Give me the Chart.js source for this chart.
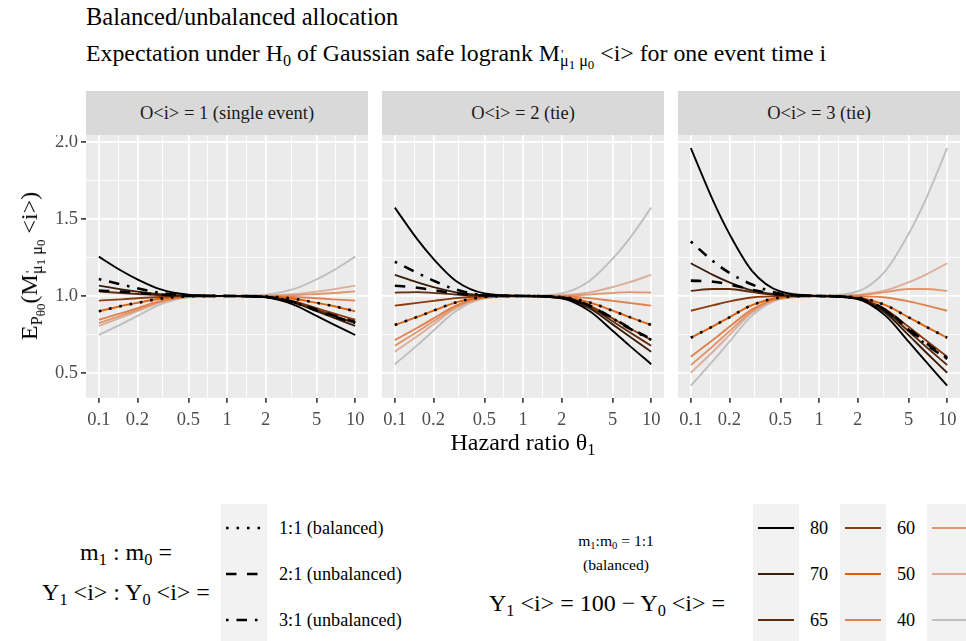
<!DOCTYPE html>
<html>
<head>
<meta charset="utf-8">
<script src="https://cdn.jsdelivr.net/npm/chart.js@4.4.1/dist/chart.umd.min.js"></script>
<style>
  body { margin: 0; background: #fff; font-family: "Liberation Serif", "Times New Roman", serif; color: #000; }
  #page { position: relative; width: 966px; height: 641px; overflow: hidden; }
  .abs { position: absolute; white-space: nowrap; line-height: 1; }
  .ctr { transform: translate(-50%, -50%); }
  sub { font-size: 0.68em; vertical-align: -0.28em; line-height: 0; }
  sub sub { font-size: 0.8em; vertical-align: -0.2em; }
  .pr { display: inline-block; width: 0; position: relative; left: 1px; top: -3px; font-size: 0.55em; }
  .strip { position: absolute; top: 91px; height: 44px; background: #d9d9d9; color: #1a1a1a;
           font-size: 18.5px; display: flex; align-items: center; justify-content: center; }
  canvas { position: absolute; }
  .keybox { position: absolute; top: 504px; width: 46px; height: 137px; background: #f2f2f2; }
  .lab { position: absolute; font-size: 18.2px; line-height: 1; white-space: nowrap; transform: translateY(-50%); }
</style>
</head>
<body>
<div id="page">
  <div class="abs" style="left:86px;top:4.5px;font-size:24.5px">Balanced/unbalanced allocation</div>
  <div class="abs" style="left:86px;top:42px;font-size:23.8px">Expectation under H<sub>0</sub> of Gaussian safe logrank M<span class="pr">'</span><sub>μ<sub>1</sub> μ<sub>0</sub></sub> &lt;i&gt; for one event time i</div>

  <div class="strip" style="left:86px;width:282px">O&lt;i&gt; = 1 (single event)</div>
  <div class="strip" style="left:382px;width:282px">O&lt;i&gt; = 2 (tie)</div>
  <div class="strip" style="left:678px;width:282px">O&lt;i&gt; = 3 (tie)</div>

  <canvas id="p1" width="368" height="300" style="left:0;top:135px"></canvas>
  <canvas id="p2" width="282" height="300" style="left:382px;top:135px"></canvas>
  <canvas id="p3" width="282" height="300" style="left:678px;top:135px"></canvas>

  <div class="abs ctr" style="left:29px;top:266px;font-size:24px;transform:translate(-50%,-50%) rotate(-90deg)">E<sub>P<sub>θ0</sub></sub>(M<span class="pr">'</span><sub>μ<sub>1</sub> μ<sub>0</sub></sub> &lt;i&gt;)</div>
  <div class="abs ctr" style="left:523px;top:442px;font-size:24px">Hazard ratio θ<sub>1</sub></div>

  <!-- legend: allocation -->
  <div class="abs ctr" style="left:126px;top:552px;font-size:24px">m<sub>1</sub> : m<sub>0</sub> =</div>
  <div class="abs ctr" style="left:126px;top:592px;font-size:24px">Y<sub>1</sub> &lt;i&gt; : Y<sub>0</sub> &lt;i&gt; =</div>
  <div class="keybox" style="left:221px"></div>
  <svg class="abs" style="left:221px;top:504px" width="46" height="137" id="keyAlloc"></svg>
  <div id="allocLabels"></div>

  <!-- legend: at risk -->
  <div class="abs ctr" style="left:616px;top:541px;font-size:15.6px">m<sub>1</sub>:m<sub>0</sub> = 1:1</div>
  <div class="abs ctr" style="left:616px;top:565px;font-size:15.6px">(balanced)</div>
  <div class="abs ctr" style="left:607px;top:603px;font-size:24px">Y<sub>1</sub> &lt;i&gt; = 100 − Y<sub>0</sub> &lt;i&gt; =</div>
  <div id="riskKeys"></div>
</div>

<script>
const hazardRatio = [0.1, 0.15, 0.2, 0.3, 0.5, 1, 2, 3.3, 5, 6.7, 10];
const xBreaks = [0.1, 0.2, 0.5, 1, 2, 5, 10];
const xMinor = [0.1414, 0.3162, 0.7071, 1.414, 3.162, 7.071];
const yBreaks = [0.5, 1.0, 1.5, 2.0];
const yMinor = [0.75, 1.25, 1.75];

const atRisk = ['80', '70', '65', '60', '50', '40', '35', '30', '20'];
const allocations = ['1:1 (balanced)', '2:1 (unbalanced)', '3:1 (unbalanced)'];

// O<i> = 1 (single event)
const o1Y80 = [1.256, 1.164, 1.108, 1.044, 1.008, 1.0, 0.991, 0.944, 0.870, 0.817, 0.746];
const o1Y70 = [1.067, 1.043, 1.028, 1.011, 1.002, 1.0, 0.993, 0.957, 0.901, 0.860, 0.805];
const o1Y65 = [1.030, 1.019, 1.013, 1.005, 1.001, 1.0, 0.994, 0.961, 0.910, 0.873, 0.823];
const o1Y60 = [0.970, 0.978, 0.985, 0.993, 0.999, 1.0, 0.995, 0.966, 0.921, 0.888, 0.845];
const o1Y50 = [0.900, 0.935, 0.955, 0.982, 0.997, 1.0, 0.997, 0.982, 0.955, 0.935, 0.900];
const o1Y40 = [0.845, 0.888, 0.921, 0.966, 0.995, 1.0, 0.999, 0.993, 0.985, 0.978, 0.970];
const o1Y35 = [0.823, 0.873, 0.910, 0.961, 0.994, 1.0, 1.001, 1.005, 1.013, 1.019, 1.030];
const o1Y30 = [0.805, 0.860, 0.901, 0.957, 0.993, 1.0, 1.002, 1.011, 1.028, 1.043, 1.067];
const o1Y20 = [0.746, 0.817, 0.870, 0.944, 0.991, 1.0, 1.008, 1.044, 1.108, 1.164, 1.256];
const o1Bal = [0.900, 0.935, 0.955, 0.982, 0.997, 1.0, 0.997, 0.982, 0.955, 0.935, 0.900];
const o1Unb2 = [1.035, 1.028, 1.020, 1.009, 1.002, 1.0, 0.994, 0.960, 0.910, 0.875, 0.830];
const o1Unb3 = [1.110, 1.075, 1.050, 1.020, 1.004, 1.0, 0.993, 0.958, 0.905, 0.868, 0.825];

// O<i> = 2 (tie)
const o2Y80 = [1.575, 1.368, 1.242, 1.098, 1.017, 1.0, 0.984, 0.902, 0.774, 0.680, 0.556];
const o2Y70 = [1.137, 1.088, 1.058, 1.023, 1.004, 1.0, 0.987, 0.920, 0.815, 0.739, 0.637];
const o2Y65 = [1.022, 1.025, 1.020, 1.010, 1.002, 1.0, 0.989, 0.929, 0.835, 0.767, 0.676];
const o2Y60 = [0.937, 0.955, 0.968, 0.986, 0.998, 1.0, 0.990, 0.937, 0.854, 0.793, 0.713];
const o2Y50 = [0.811, 0.864, 0.904, 0.958, 0.993, 1.0, 0.993, 0.958, 0.904, 0.864, 0.811];
const o2Y40 = [0.713, 0.793, 0.854, 0.937, 0.990, 1.0, 0.998, 0.986, 0.968, 0.955, 0.937];
const o2Y35 = [0.676, 0.767, 0.835, 0.929, 0.989, 1.0, 1.002, 1.010, 1.020, 1.025, 1.022];
const o2Y30 = [0.637, 0.739, 0.815, 0.920, 0.987, 1.0, 1.004, 1.023, 1.058, 1.088, 1.137];
const o2Y20 = [0.556, 0.680, 0.774, 0.902, 0.984, 1.0, 1.017, 1.098, 1.242, 1.368, 1.575];
const o2Bal = [0.811, 0.864, 0.904, 0.958, 0.993, 1.0, 0.993, 0.958, 0.904, 0.864, 0.811];
const o2Unb2 = [1.067, 1.054, 1.038, 1.016, 1.003, 1.0, 0.990, 0.938, 0.857, 0.795, 0.720];
const o2Unb3 = [1.223, 1.150, 1.100, 1.042, 1.006, 1.0, 0.989, 0.935, 0.853, 0.790, 0.715];

// O<i> = 3 (tie)
const o3Y80 = [1.962, 1.616, 1.404, 1.164, 1.029, 1.0, 0.980, 0.872, 0.702, 0.580, 0.416];
const o3Y70 = [1.213, 1.136, 1.089, 1.036, 1.006, 1.0, 0.983, 0.890, 0.745, 0.640, 0.500];
const o3Y65 = [1.033, 1.045, 1.045, 1.025, 1.005, 1.0, 0.984, 0.901, 0.770, 0.676, 0.550];
const o3Y60 = [0.904, 0.940, 0.965, 0.990, 0.999, 1.0, 0.986, 0.913, 0.799, 0.716, 0.605];
const o3Y50 = [0.728, 0.804, 0.861, 0.940, 0.990, 1.0, 0.990, 0.940, 0.861, 0.804, 0.728];
const o3Y40 = [0.605, 0.716, 0.799, 0.913, 0.986, 1.0, 0.999, 0.990, 0.965, 0.940, 0.904];
const o3Y35 = [0.550, 0.676, 0.770, 0.901, 0.984, 1.0, 1.005, 1.025, 1.045, 1.045, 1.033];
const o3Y30 = [0.500, 0.640, 0.745, 0.890, 0.983, 1.0, 1.006, 1.036, 1.089, 1.136, 1.213];
const o3Y20 = [0.416, 0.580, 0.702, 0.872, 0.980, 1.0, 1.029, 1.164, 1.404, 1.616, 1.962];
const o3Bal = [0.728, 0.804, 0.861, 0.940, 0.990, 1.0, 0.990, 0.940, 0.861, 0.804, 0.728];
const o3Unb2 = [1.100, 1.093, 1.075, 1.040, 1.010, 1.0, 0.985, 0.910, 0.790, 0.700, 0.595];
const o3Unb3 = [1.354, 1.225, 1.150, 1.075, 1.015, 1.0, 0.984, 0.905, 0.780, 0.690, 0.590];

// styles
const riskColours = ['#000000', '#3b1d0b', '#5e2d10', '#8c3b0c', '#de620e', '#df8250', '#e2966e', '#dcad98', '#bebebe'];
const allocDashes = [[2.6, 7.9], [10.5, 10.5], [2.6, 7.9, 10.5, 7.9]];
const FONT = "'Liberation Serif', 'Times New Roman', serif";

const isMajorX = v => xBreaks.some(b => Math.abs(b - v) < 1e-9);
const isMajorY = v => yBreaks.some(b => Math.abs(b - v) < 1e-9);

const panelBg = {
    id: 'panelBg',
    beforeDraw(chart) {
        const a = chart.chartArea;
        const ctx = chart.ctx;
        ctx.save();
        ctx.fillStyle = '#ebebeb';
        ctx.fillRect(a.left, a.top, a.right - a.left, a.bottom - a.top);
        ctx.restore();
    }
};

function toPoints(ys) {
    return hazardRatio.map((x, i) => ({ x: x, y: ys[i] }));
}

function makePanel(id, solids, patterned, showY) {
    const datasets = [];
    // patterned black lines first so they sit on top
    patterned.forEach((ys, k) => {
        datasets.push({
            label: allocations[k],
            data: toPoints(ys),
            borderColor: '#000',
            borderWidth: 2.6,
            borderDash: allocDashes[k],
            borderCapStyle: 'butt',
            pointRadius: 0,
            cubicInterpolationMode: 'monotone',
            fill: false
        });
    });
    solids.forEach((ys, k) => {
        datasets.push({
            label: atRisk[k],
            data: toPoints(ys),
            borderColor: riskColours[k],
            borderWidth: 1.9,
            pointRadius: 0,
            cubicInterpolationMode: 'monotone',
            fill: false
        });
    });

    return new Chart(document.getElementById(id).getContext('2d'), {
        type: 'line',
        data: { datasets },
        plugins: [panelBg],
        options: {
            responsive: false,
            animation: false,
            devicePixelRatio: 1,
            layout: { padding: 0 },
            plugins: { legend: { display: false }, tooltip: { enabled: false } },
            scales: {
                x: {
                    type: 'logarithmic',
                    min: Math.pow(10, -1.1),
                    max: Math.pow(10, 1.1),
                    border: { display: false },
                    afterBuildTicks: (scale) => {
                        scale.ticks = [...xBreaks, ...xMinor].sort((a, b) => a - b).map(v => ({ value: v }));
                    },
                    afterFit: (scale) => {
                        scale.height = 37.2;
                        scale.paddingLeft = 0;
                        scale.paddingRight = 0;
                    },
                    grid: {
                        color: '#ffffff',
                        lineWidth: (c) => (c.tick && isMajorX(c.tick.value)) ? 1.8 : 0.9,
                        drawTicks: true,
                        tickLength: 5,
                        tickWidth: 1.6,
                        tickColor: (c) => (c.tick && isMajorX(c.tick.value)) ? '#333333' : 'rgba(0,0,0,0)'
                    },
                    ticks: {
                        autoSkip: false,
                        maxRotation: 0,
                        padding: 6,
                        color: '#4d4d4d',
                        font: { family: FONT, size: 18.5 },
                        callback: (v) => isMajorX(v) ? String(v) : ''
                    }
                },
                y: {
                    type: 'linear',
                    min: 0.337,
                    max: 2.048,
                    border: { display: false },
                    afterBuildTicks: (scale) => {
                        scale.ticks = [...yBreaks, ...yMinor].sort((a, b) => a - b).map(v => ({ value: v }));
                    },
                    afterFit: (scale) => {
                        scale.width = showY ? 86 : 0;
                        scale.paddingTop = 0;
                        scale.paddingBottom = 0;
                    },
                    grid: {
                        color: '#ffffff',
                        lineWidth: (c) => (c.tick && isMajorY(c.tick.value)) ? 1.8 : 0.9,
                        drawTicks: showY,
                        tickLength: 5,
                        tickWidth: 1.6,
                        tickColor: (c) => (c.tick && isMajorY(c.tick.value)) ? '#333333' : 'rgba(0,0,0,0)'
                    },
                    ticks: {
                        display: showY,
                        padding: 3,
                        color: '#4d4d4d',
                        font: { family: FONT, size: 18.5 },
                        callback: (v) => isMajorY(v) ? v.toFixed(1) : ''
                    }
                }
            }
        }
    });
}

makePanel('p1', [o1Y80, o1Y70, o1Y65, o1Y60, o1Y50, o1Y40, o1Y35, o1Y30, o1Y20], [o1Bal, o1Unb2, o1Unb3], true);
makePanel('p2', [o2Y80, o2Y70, o2Y65, o2Y60, o2Y50, o2Y40, o2Y35, o2Y30, o2Y20], [o2Bal, o2Unb2, o2Unb3], false);
makePanel('p3', [o3Y80, o3Y70, o3Y65, o3Y60, o3Y50, o3Y40, o3Y35, o3Y30, o3Y20], [o3Bal, o3Unb2, o3Unb3], false);

// legend keys
const rowY = [24, 70, 116];
const NS = 'http://www.w3.org/2000/svg';
const keyAlloc = document.getElementById('keyAlloc');
allocations.forEach((txt, k) => {
    const ln = document.createElementNS(NS, 'line');
    ln.setAttribute('x1', 5); ln.setAttribute('x2', 42);
    ln.setAttribute('y1', rowY[k]); ln.setAttribute('y2', rowY[k]);
    ln.setAttribute('stroke', '#000');
    ln.setAttribute('stroke-width', 2.6);
    ln.setAttribute('stroke-dasharray', allocDashes[k].join(' '));
    keyAlloc.appendChild(ln);
    const lab = document.createElement('div');
    lab.className = 'lab';
    lab.style.left = '279px';
    lab.style.top = (504 + rowY[k]) + 'px';
    lab.textContent = txt;
    document.getElementById('allocLabels').appendChild(lab);
});

const riskKeys = document.getElementById('riskKeys');
const colLeft = [753, 840, 927];
atRisk.forEach((txt, k) => {
    const col = Math.floor(k / 3), row = k % 3;
    if (row === 0) {
        const box = document.createElement('div');
        box.className = 'keybox';
        box.style.left = colLeft[col] + 'px';
        riskKeys.appendChild(box);
    }
    const svg = document.createElementNS(NS, 'svg');
    svg.setAttribute('width', 46); svg.setAttribute('height', 10);
    svg.style.position = 'absolute';
    svg.style.left = colLeft[col] + 'px';
    svg.style.top = (504 + rowY[row] - 5) + 'px';
    const ln = document.createElementNS(NS, 'line');
    ln.setAttribute('x1', 5); ln.setAttribute('x2', 41);
    ln.setAttribute('y1', 5); ln.setAttribute('y2', 5);
    ln.setAttribute('stroke', riskColours[k]);
    ln.setAttribute('stroke-width', 2.2);
    svg.appendChild(ln);
    riskKeys.appendChild(svg);
    const lab = document.createElement('div');
    lab.className = 'lab';
    lab.style.left = (colLeft[col] + 57) + 'px';
    lab.style.top = (504 + rowY[row]) + 'px';
    lab.textContent = txt;
    riskKeys.appendChild(lab);
});
</script>
</body>
</html>
